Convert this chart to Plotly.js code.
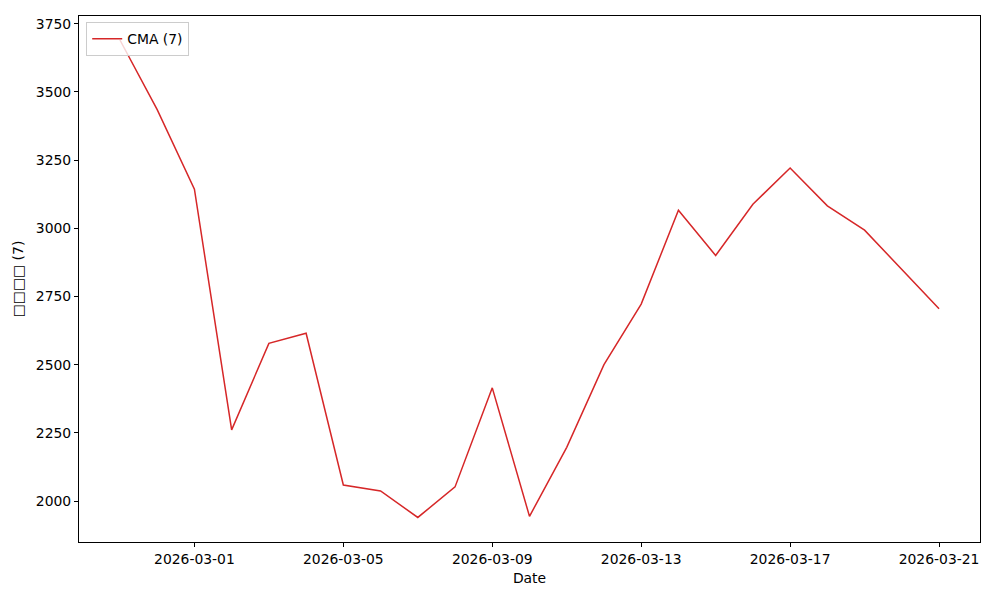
<!DOCTYPE html>
<html>
<head>
<meta charset="utf-8">
<script src="https://cdn.plot.ly/plotly-3.0.1.min.js"></script>
<style>html,body{margin:0;padding:0;background:#fff;}#chart{width:1000px;height:600px;}</style>
</head>
<body>
<div id="chart"></div>
<script>
const dates = ["2026-02-27","2026-02-28","2026-03-01","2026-03-02","2026-03-03","2026-03-04","2026-03-05","2026-03-06","2026-03-07","2026-03-08","2026-03-09","2026-03-10","2026-03-11","2026-03-12","2026-03-13","2026-03-14","2026-03-15","2026-03-16","2026-03-17","2026-03-18","2026-03-19","2026-03-21"];
const cmaValues = [3690,3435,3143,2261,2578,2615,2059,2037,1940,2052,2415,1944,2197,2500,2722,3066,2900,3088,3221,3082,2993,2705];
const seriesName = "CMA (7)";
const xTicks = ["2026-03-01","2026-03-05","2026-03-09","2026-03-13","2026-03-17","2026-03-21"];
const xTitle = "Date";
const yTitle = "□□□□ (7)";
const yTicks = [2000,2250,2500,2750,3000,3250,3500,3750];

const font = {family: "DejaVu Sans", size: 13.9, color: "#000"};
const trace = {
  x: dates, y: cmaValues, type: "scatter", mode: "lines", name: seriesName,
  line: {color: "#d62728", width: 1.5}
};
const layout = {
  width: 1000, height: 600,
  margin: {l: 79, r: 20, t: 16, b: 58},
  paper_bgcolor: "#fff", plot_bgcolor: "#fff",
  font: font,
  showlegend: true,
  legend: {x: 0.008, y: 0.988, xanchor: "left", yanchor: "top", bgcolor: "rgba(255,255,255,0.8)", bordercolor: "#cccccc", borderwidth: 1, font: {family: "DejaVu Sans", size: 13.9}},
  xaxis: {
    type: "date",
    range: ["2026-02-25 21:36", "2026-03-22 02:24"],
    tickvals: xTicks, ticktext: xTicks,
    showgrid: false, zeroline: false,
    showline: true, mirror: true, linecolor: "#000", linewidth: 1,
    ticks: "outside", ticklen: 4, tickcolor: "#000",
    title: {text: xTitle, font: font, standoff: 7}
  },
  yaxis: {
    range: [1850, 3778],
    tickvals: yTicks,
    showgrid: false, zeroline: false,
    showline: true, mirror: true, linecolor: "#000", linewidth: 1,
    ticks: "outside", ticklen: 4, tickcolor: "#000",
    title: {text: yTitle, font: font, standoff: 8}
  }
};
Plotly.newPlot("chart", [trace], layout, {displayModeBar: false, staticPlot: true});
</script>
</body>
</html>
